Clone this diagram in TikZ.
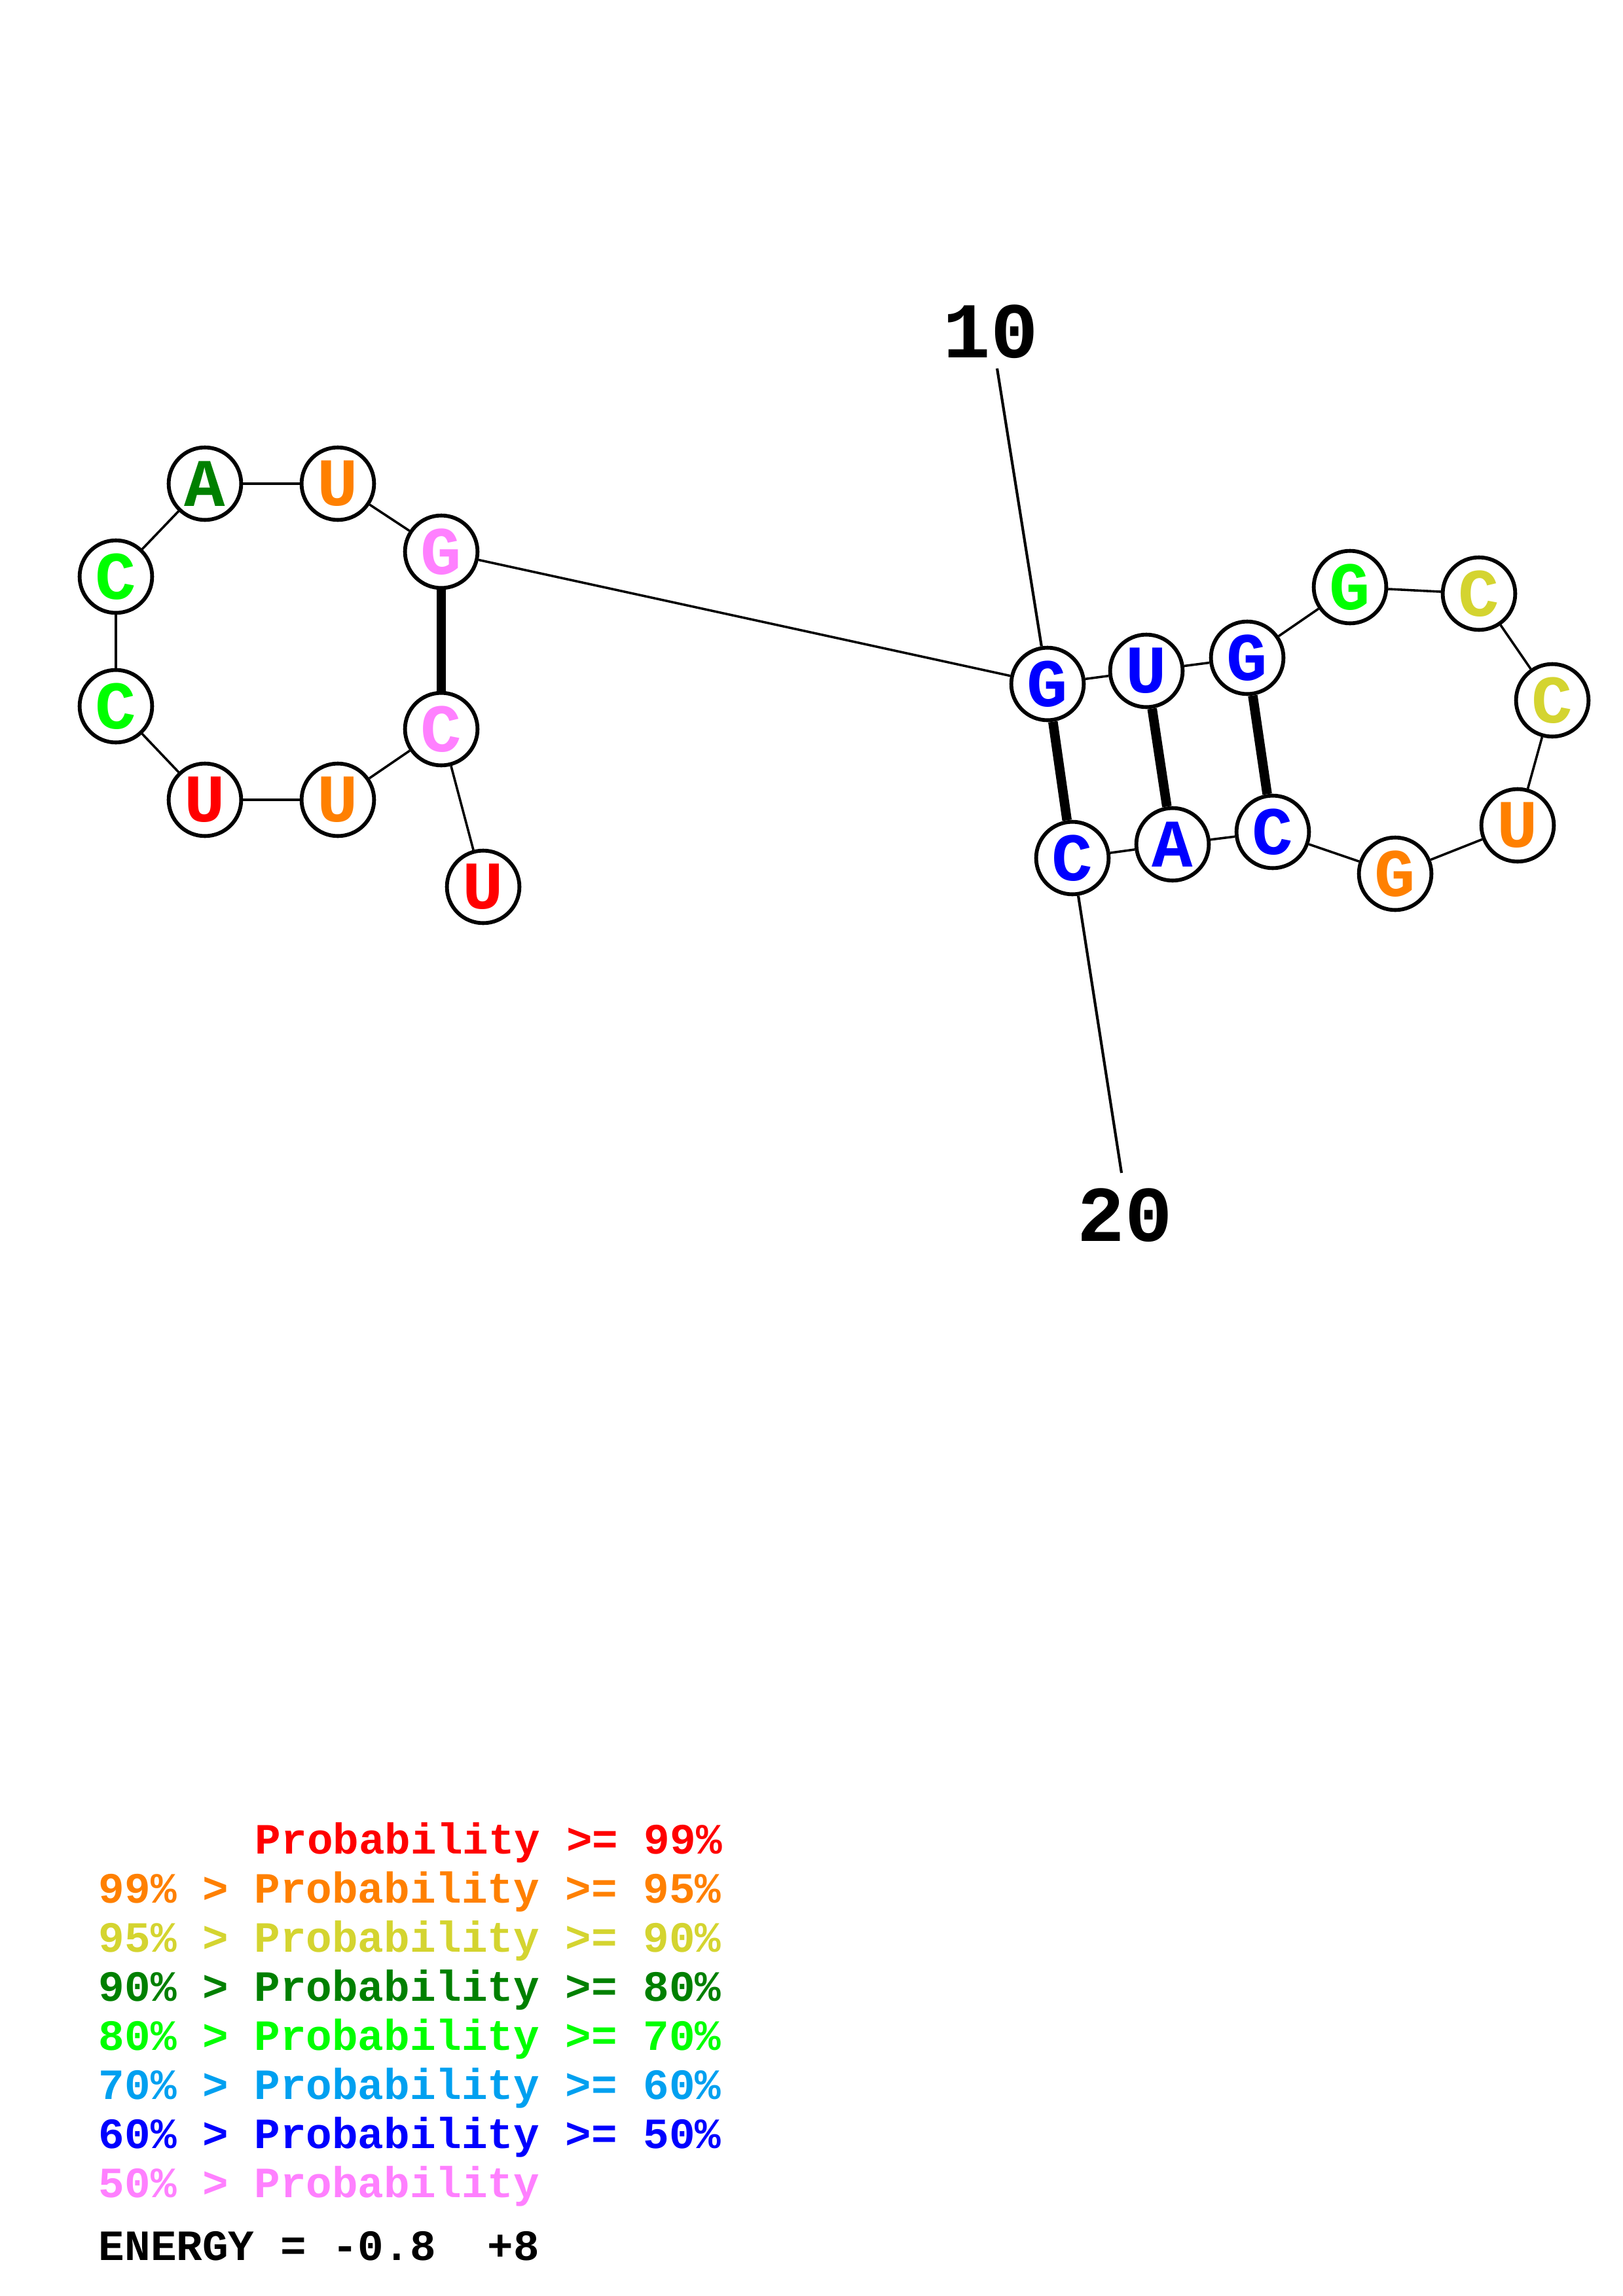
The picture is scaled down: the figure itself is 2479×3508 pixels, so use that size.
\documentclass[tikz,border=0pt]{standalone}
\usepackage{fontspec}
\setmonofont{Liberation Mono}
\newfontfamily\basefont{Liberation Mono}[BoldFont={* Bold}]
\definecolor{cRed}{RGB}{255,0,0}
\definecolor{cOrange}{RGB}{255,128,0}
\definecolor{cYellow}{RGB}{212,212,48}
\definecolor{cDGreen}{RGB}{0,128,0}
\definecolor{cGreen}{RGB}{0,255,0}
\definecolor{cSky}{RGB}{0,160,240}
\definecolor{cBlue}{RGB}{0,0,255}
\definecolor{cPink}{RGB}{255,128,255}
\tikzset{
  base/.style={circle,draw=black,fill=white,line width=1.4pt,minimum size=26.6pt,inner sep=0pt,
    font=\basefont\bfseries\fontsize{25}{25}\selectfont},
  bb/.style={line width=0.86pt,black},
  pair/.style={line width=3.5pt,black},
  tick/.style={line width=1pt,black},
  numlab/.style={font=\basefont\bfseries\fontsize{29}{29}\selectfont,inner sep=0pt},
  leg/.style={anchor=base west,inner sep=0pt,font=\basefont\bfseries\fontsize{15.85}{16}\selectfont},
}
\begin{document}
\begin{tikzpicture}[x=0.24013pt,y=-0.24013pt]
\useasboundingbox (0,0) rectangle (2479,3508);
% left loop nodes
\node[base,text=cDGreen] (LA) at (313,739) {A};
\node[base,text=cOrange] (LU1) at (516,739) {U};
\node[base,text=cPink] (LG) at (674,843) {G};
\node[base,text=cPink] (LC) at (674,1114) {C};
\node[base,text=cOrange] (LU2) at (516,1222) {U};
\node[base,text=cRed] (LU3) at (313,1222) {U};
\node[base,text=cGreen] (LC2) at (177,1079) {C};
\node[base,text=cGreen] (LC1) at (177,881) {C};
\node[base,text=cRed] (LT) at (738,1355) {U};
% right structure nodes
\node[base,text=cBlue] (RG1) at (1600,1045) {G};
\node[base,text=cBlue] (RU1) at (1751,1025) {U};
\node[base,text=cBlue] (RG2) at (1905,1005) {G};
\node[base,text=cGreen] (RG3) at (2062,897) {G};
\node[base,text=cYellow] (RC1) at (2259,907) {C};
\node[base,text=cYellow] (RC2) at (2371,1070) {C};
\node[base,text=cOrange] (RU2) at (2318,1261) {U};
\node[base,text=cOrange] (RG4) at (2131,1335) {G};
\node[base,text=cBlue] (RC3) at (1944,1271) {C};
\node[base,text=cBlue] (RA) at (1791,1290) {A};
\node[base,text=cBlue] (RC4) at (1638,1311) {C};
% labels
\node[numlab] (l10) at (1513,507) {10};
\node[numlab] (l20) at (1718,1857) {20};
\coordinate (t10) at (1523,563);
\coordinate (t20) at (1713,1792);
% connectors
\draw[bb] (LC1) -- (LA);
\draw[bb] (LA) -- (LU1);
\draw[bb] (LU1) -- (LG);
\draw[bb] (LG) -- (RG1);
\draw[bb] (LC) -- (LU2);
\draw[bb] (LU2) -- (LU3);
\draw[bb] (LU3) -- (LC2);
\draw[bb] (LC2) -- (LC1);
\draw[bb] (LC) -- (LT);
\draw[bb] (RG1) -- (RU1);
\draw[bb] (RU1) -- (RG2);
\draw[bb] (RG2) -- (RG3);
\draw[bb] (RG3) -- (RC1);
\draw[bb] (RC1) -- (RC2);
\draw[bb] (RC2) -- (RU2);
\draw[bb] (RU2) -- (RG4);
\draw[bb] (RG4) -- (RC3);
\draw[bb] (RC3) -- (RA);
\draw[bb] (RA) -- (RC4);
\draw[pair] (LG) -- (LC);
\draw[pair] (RG1) -- (RC4);
\draw[pair] (RU1) -- (RA);
\draw[pair] (RG2) -- (RC3);
\draw[tick] (RG1) -- (t10);
\draw[tick] (RC4) -- (t20);
% legend
\node[leg,text=cRed] (p1) at (389,2832) {Probability >=~99\%};
\node[leg,text=cOrange] (p2) at (150,2907) {99\%~>~Probability~>=~95\%};
\node[leg,text=cYellow] (p3) at (150,2982) {95\%~>~Probability~>=~90\%};
\node[leg,text=cDGreen] (p4) at (150,3057) {90\%~>~Probability~>=~80\%};
\node[leg,text=cGreen] (p5) at (150,3132) {80\%~>~Probability~>=~70\%};
\node[leg,text=cSky] (p6) at (150,3207) {70\%~>~Probability~>=~60\%};
\node[leg,text=cBlue] (p7) at (150,3282) {60\%~>~Probability~>=~50\%};
\node[leg,text=cPink] (p8) at (150,3357) {50\%~>~Probability};
\node[leg,text=black] (en) at (150,3453) {ENERGY~=~-0.8~~+8};
\end{tikzpicture}
\end{document}
